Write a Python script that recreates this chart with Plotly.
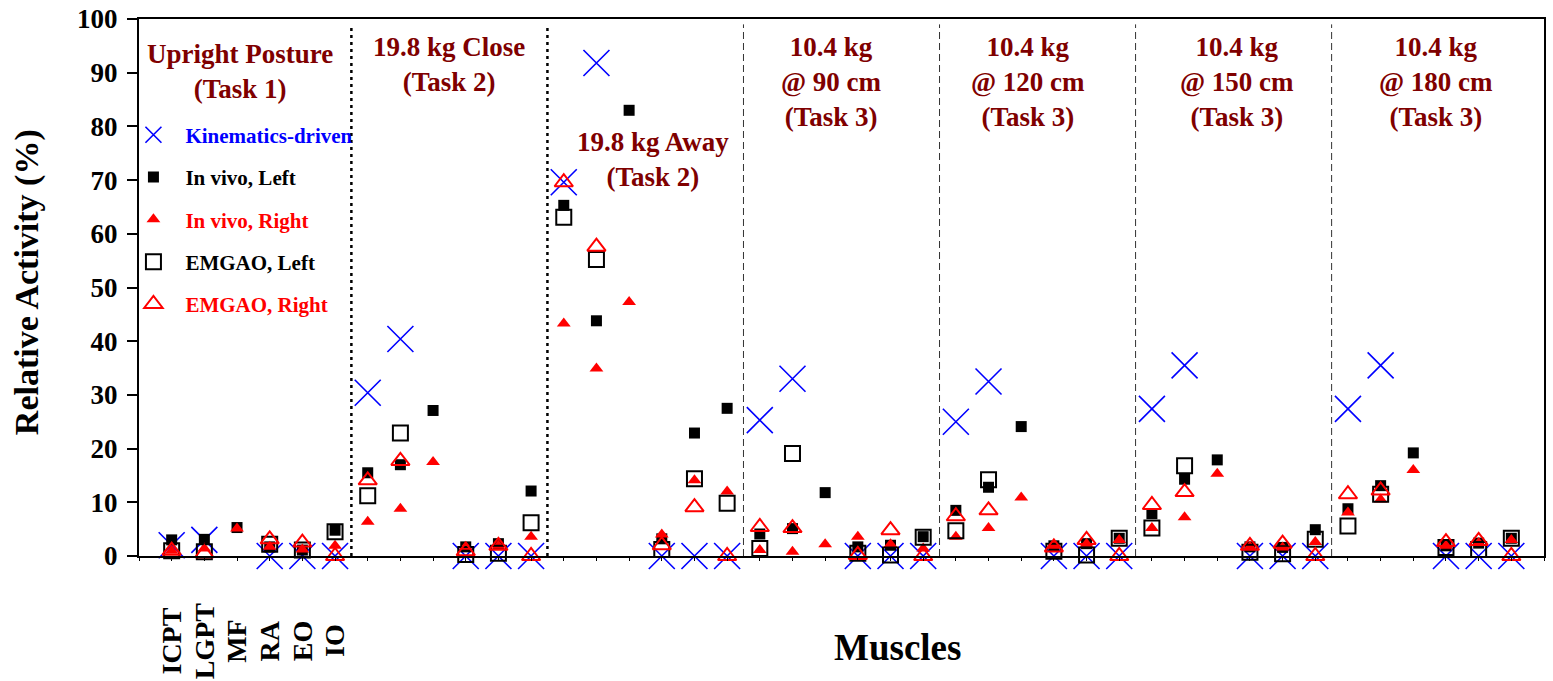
import plotly.graph_objects as go

# ---------------- data ----------------
muscles = ["ICPT", "LGPT", "MF", "RA", "EO", "IO"]
task_labels = [
    "Upright Posture<br>(Task 1)",
    "19.8 kg Close<br>(Task 2)",
    "19.8 kg Away<br>(Task 2)",
    "10.4 kg<br>@ 90 cm<br>(Task 3)",
    "10.4 kg<br>@ 120 cm<br>(Task 3)",
    "10.4 kg<br>@ 150 cm<br>(Task 3)",
    "10.4 kg<br>@ 180 cm<br>(Task 3)",
]
# one row per task, columns follow `muscles`
kinematics = [
    [2.0, 3.0, None, 0, 0, 0],
    [30.4, 40.4, None, 0, 0, 0],
    [69.6, 91.8, None, 0, 0, 0],
    [25.3, 33.0, None, 0, 0, 0],
    [25.0, 32.5, None, 0, 0, 0],
    [27.4, 35.5, None, 0, 0, 0],
    [27.4, 35.5, None, 0, 0, 0],
]
invivo_left = [
    [3.0, 3.1, 5.3, 1.7, 1.1, 4.8],
    [15.5, 17.0, 27.1, 1.7, 2.3, 12.1],
    [65.3, 43.8, 83.0, 3.2, 22.9, 27.5],
    [4.1, 5.1, 11.8, 1.7, 2.0, 3.6],
    [8.5, 12.8, 24.1, 1.9, 2.3, 3.3],
    [7.9, 14.3, 17.9, 1.7, 1.6, 4.9],
    [8.8, 13.1, 19.2, 1.9, 2.4, 3.3],
]
invivo_right = [
    [1.0, 1.4, 5.1, 1.7, 1.2, 1.9],
    [6.4, 8.8, 17.5, 1.7, 1.9, 3.6],
    [43.3, 34.9, 47.3, 4.0, 14.1, 12.0],
    [1.1, 0.8, 2.2, 3.6, 2.2, 1.4],
    [3.6, 5.2, 10.9, 1.9, 2.3, 3.0],
    [5.2, 7.2, 15.3, 1.7, 1.6, 2.6],
    [8.1, 10.5, 16.0, 1.9, 2.4, 3.0],
]
emgao_left = [
    [1.0, 0.8, None, 2.2, 1.1, 4.5],
    [11.2, 22.9, None, 0.3, 0.5, 6.2],
    [63.1, 55.2, None, 1.2, 14.4, 9.8],
    [1.4, 19.1, None, 0.5, 0.2, 3.5],
    [4.7, 14.2, None, 0.9, 0.2, 3.3],
    [5.2, 16.8, None, 0.7, 0.4, 3.1],
    [5.6, 11.5, None, 1.6, 1.2, 3.3],
]
emgao_right = [
    [1.0, 0.5, None, 3.1, 2.5, 0],
    [14.1, 17.7, None, 0.9, 1.9, 0],
    [69.6, 57.6, None, 2.0, 9.1, 0],
    [5.4, 5.2, None, 0.2, 4.8, 0],
    [7.4, 8.5, None, 1.6, 3.0, 0],
    [9.5, 11.9, None, 1.9, 2.3, 0],
    [11.5, 12.2, None, 2.6, 2.8, 0],
]
y_ticks = [0, 10, 20, 30, 40, 50, 60, 70, 80, 90, 100]

# ---------------- styling ----------------
FONT = "Liberation Serif"
MAROON = "#7F0000"
BLUE = "#0000FF"
RED = "#FF0000"

n_m = len(muscles)
n_t = len(task_labels)


def flat(rows):
    xs, ys = [], []
    for t, row in enumerate(rows):
        for m, v in enumerate(row):
            xs.append(t * n_m + m + 1)
            ys.append(v)
    return xs, ys


series = [
    ("Kinematics-driven", kinematics, BLUE,
     dict(symbol="x-thin-open", size=26, color=BLUE, line=dict(color=BLUE, width=1.6))),
    ("In vivo, Left", invivo_left, "#000000",
     dict(symbol="square", size=11, color="#000000", line=dict(width=0))),
    ("In vivo, Right", invivo_right, RED,
     dict(symbol="triangle-up", size=12, color=RED, line=dict(width=0))),
    ("EMGAO, Left", emgao_left, "#000000",
     dict(symbol="square-open", size=15, color="#000000", line=dict(color="#000000", width=2))),
    ("EMGAO, Right", emgao_right, RED,
     dict(symbol="triangle-up-open", size=16, color=RED, line=dict(color=RED, width=2))),
]

fig = go.Figure()
for name, rows, col, mk in series:
    xs, ys = flat(rows)
    fig.add_trace(go.Scatter(
        x=xs, y=ys, mode="markers", marker=mk, cliponaxis=False,
        name=f"<span style='color:{col}'>{name}</span>", legendgroup=name,
    ))

# group separators
for t in range(1, n_t):
    xb = t * n_m + 0.5
    if t <= 2:
        line = dict(color="#000000", width=2.5, dash="3px,4px")
    else:
        line = dict(color="#333333", width=1, dash="7px,4px")
    fig.add_shape(type="line", xref="x", yref="y", x0=xb, x1=xb, y0=0, y1=99, line=line, layer="below")

# group labels
label_x = [3.09, 9.49, 15.73, 21.2, 27.2, 33.6, 39.7]
label_y = [90.15, 91.55, 73.85, 88.3, 88.3, 88.3, 88.3]
for lx, ly, txt in zip(label_x, label_y, task_labels):
    fig.add_annotation(x=lx, y=ly, xref="x", yref="y", text=txt, showarrow=False,
                       xanchor="center", yanchor="middle",
                       font=dict(family=FONT, size=27, color=MAROON, weight="bold"))

# muscle labels under first group
for m, mus in enumerate(muscles):
    fig.add_annotation(x=m + 1, y=-0.158, xref="x", yref="paper", text=mus, showarrow=False,
                       textangle=-90, xanchor="center", yanchor="middle",
                       font=dict(family=FONT, size=28, color="#000000", weight="bold"))

# axis titles
fig.add_annotation(x=0.54, y=-0.171, xref="paper", yref="paper", text="Muscles", showarrow=False,
                   xanchor="center", yanchor="middle",
                   font=dict(family=FONT, size=37, color="#000000", weight="bold"))
fig.add_annotation(x=-0.0797, y=0.51, xref="paper", yref="paper", text="Relative Activity (%)",
                   showarrow=False, textangle=-90, xanchor="center", yanchor="middle",
                   font=dict(family=FONT, size=34, color="#000000", weight="bold"))

fig.update_xaxes(range=[0, n_t * n_m + 1], showgrid=False, zeroline=False, automargin=False,
                 showline=True, linecolor="#000000", linewidth=2, mirror=True,
                 ticks="outside", ticklen=3, tickwidth=1, tickcolor="#000000",
                 tick0=0, dtick=1, showticklabels=False)
fig.update_yaxes(range=[0, 100], showgrid=False, zeroline=False, automargin=False,
                 showline=True, linecolor="#000000", linewidth=2, mirror=True,
                 ticks="outside", ticklen=10, tickwidth=1.5, tickcolor="#000000",
                 tickvals=y_ticks, ticklabelstandoff=4, ticklabeloverflow="allow",
                 tickfont=dict(family=FONT, size=27, color="#000000", weight="bold"))

fig.update_layout(
    width=1553, height=681,
    margin=dict(l=139, r=9, t=19, b=125, autoexpand=False),
    paper_bgcolor="white", plot_bgcolor="white",
    showlegend=True,
    legend=dict(x=-0.0125, y=0.822, xanchor="left", yanchor="top",
                bgcolor="rgba(0,0,0,0)", itemwidth=54, tracegroupgap=12,
                font=dict(family=FONT, size=21, color="#000000", weight="bold")),
)

# drop the page's default 8px body margin so the figure fills the window exactly
fig.write_html("out.html", config={"displayModeBar": False},
               post_script="document.body.style.margin='0px';")
